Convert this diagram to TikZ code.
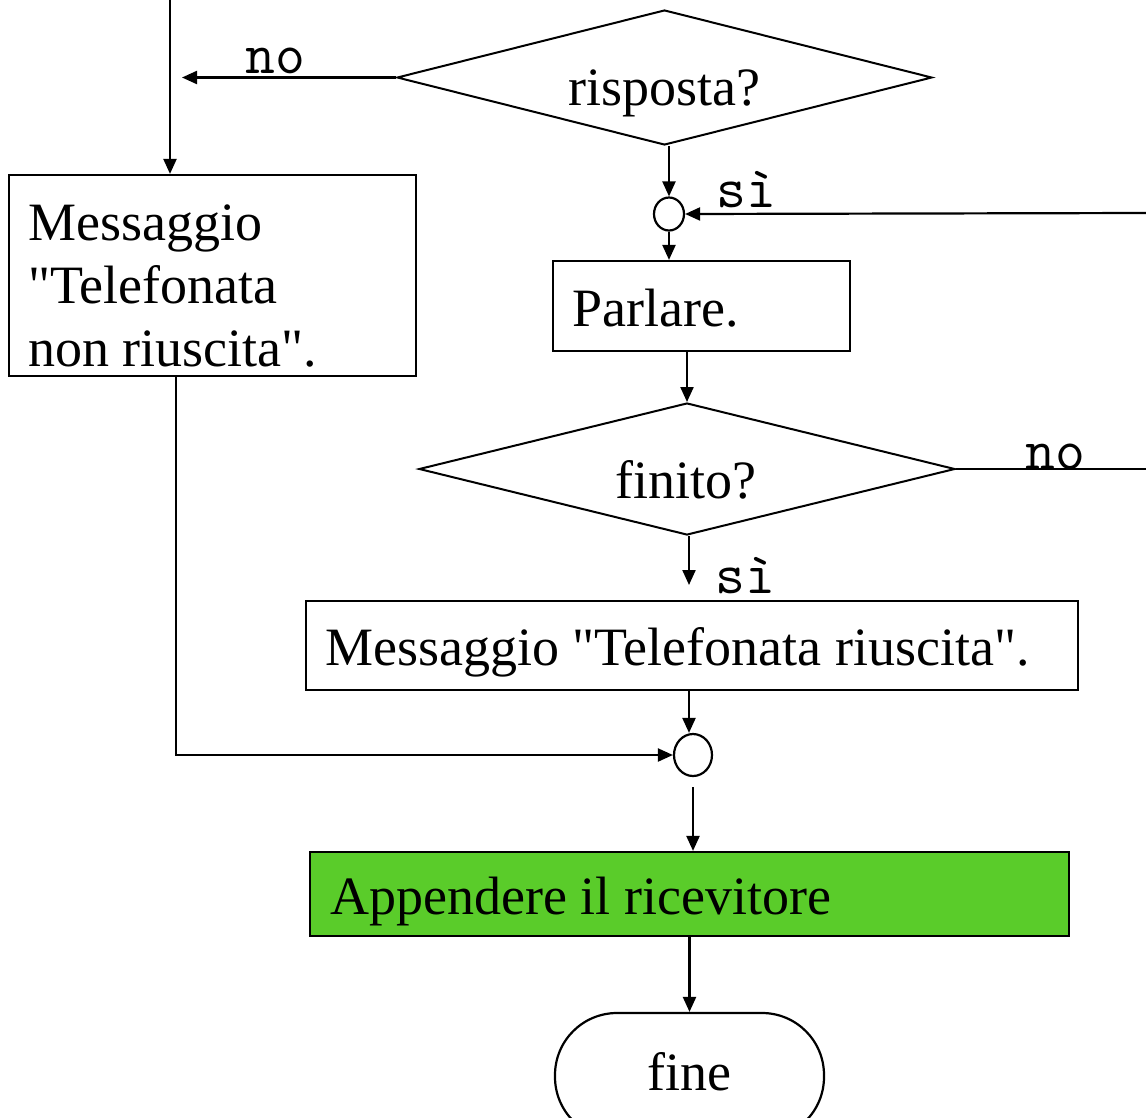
\documentclass[tikz,border=0pt]{standalone}
\usepackage{fontspec}
\setmainfont{Liberation Serif}[Ligatures=TeXOff]
\usetikzlibrary{arrows.meta,shapes.geometric}
\definecolor{okgreen}{RGB}{90,204,42}
\begin{document}
\begin{tikzpicture}[x=1pt,y=-1pt,
  flow/.style={line width=2.2pt,-{Triangle[length=15pt,width=13pt]}},
  plain/.style={line width=2.2pt},
  shapebox/.style={draw,line width=2.2pt,rectangle,inner sep=0pt},
  decision/.style={draw,line width=2pt,diamond,inner sep=0pt},
  joint/.style={draw,line width=2.2pt,ellipse,inner sep=0pt},
  txt/.style={font=\fontsize{54}{63}\selectfont,inner sep=0pt,anchor=base west},
  ctxt/.style={font=\fontsize{54}{63}\selectfont,inner sep=0pt,anchor=base},
  tag/.style={font=\ttfamily\fontsize{58}{58}\selectfont,inner sep=0pt,anchor=base west}]
\useasboundingbox (0,0) rectangle (1146,1117);

% decisions
\node[decision,minimum width=535pt,minimum height=135pt] (d1) at (664.5,77.5) {};
\node[ctxt] (t1) at (664.5,105) {risposta?};
\node[decision,minimum width=536pt,minimum height=132pt] (d2) at (687,469) {};
\node[ctxt] (t2) at (686,498) {finito?};

% process boxes
\node[shapebox,minimum width=407pt,minimum height=201pt] (lbox) at (212.5,275.5) {};
\node[txt] (lt1) at (28,240) {Messaggio};
\node[txt] (lt2) at (28,303) {"Telefonata};
\node[txt] (lt3) at (28,366) {non riuscita".};
\node[shapebox,minimum width=297pt,minimum height=90pt] (parl) at (701.5,306) {};
\node[txt] (pt) at (572,326) {Parlare.};
\node[shapebox,minimum width=772pt,minimum height=89pt] (ok) at (692,645.5) {};
\node[txt] (okt) at (325,665) {Messaggio "Telefonata riuscita".};
\node[shapebox,fill=okgreen,minimum width=759pt,minimum height=84pt] (hang) at (689.5,894) {};
\node[txt] (hangt) at (330,914) {Appendere il ricevitore};
\node[shapebox,rounded corners=62pt,minimum width=269pt,minimum height=126pt] (fine) at (689.5,1076) {};
\node[ctxt] (finet) at (689.5,1090) {fine};

% junctions
\node[joint,minimum width=30pt,minimum height=33pt] (c1) at (669,214) {};
\node[joint,minimum width=38pt,minimum height=42pt] (c2) at (693,755) {};

% free ends
\coordinate (topin) at (170,0);
\coordinate (noend) at (182,77.5);
\coordinate (loopin) at (1146,213);
\coordinate (loopout) at (1146,469);
\coordinate (siend) at (689,585);
\coordinate (lcol) at (176,0);

% connectors
\draw[flow] (topin) -- (topin |- lbox.north);
\draw[flow] (d1.west) -- (noend);
\node[tag] (no1) at (245,73) {no};
\draw[flow] (c1 |- d1.south) -- (c1.north);
\draw[flow] (loopin) -- (c1.east);
\node[tag] (si1) at (716,207) {sì};
\draw[flow] (c1.south) -- (c1 |- parl.north);
\draw[flow] (d2.north |- parl.south) -- (d2.north);
\draw[plain] (d2.east) -- (loopout);
\node[tag] (no2) at (1025,469) {no};
\draw[flow] (siend |- d2.south) -- (siend);
\node[tag] (si2) at (715,593) {sì};
\draw[flow] (siend |- ok.south) -- (siend |- c2.north);
\draw[flow] (lcol |- lbox.south) |- (c2.west);
\draw[flow] (c2.south) ++(0,10) -- (c2 |- hang.north);
\draw[flow] (fine.north |- hang.south) -- (fine.north);
\end{tikzpicture}
\end{document}
